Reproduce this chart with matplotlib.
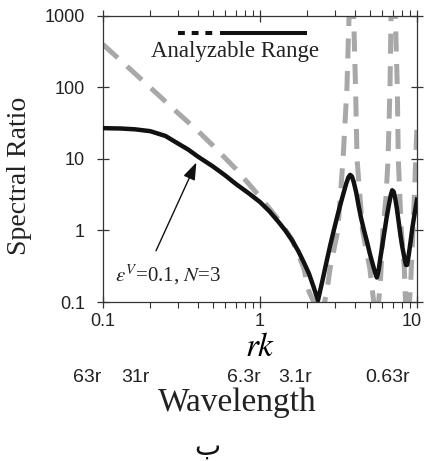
import numpy as np
import matplotlib.pyplot as plt
import matplotlib.transforms as mtransforms
from matplotlib.ticker import LogLocator, NullLocator, FixedLocator, FixedFormatter

plt.rcParams['font.family'] = ['Liberation Sans', 'DejaVu Sans']
plt.rcParams['mathtext.fontset'] = 'stix'

# smoothed spectral ratio (solid black)
rk_obs = [0.1, 0.13, 0.16, 0.2, 0.25, 0.275, 0.3, 0.35, 0.4, 0.5, 0.6, 0.7, 0.85,
          1.0, 1.15, 1.3, 1.45, 1.6, 1.75, 1.9, 2.05, 2.2, 2.34, 2.5, 2.65, 2.8,
          2.95, 3.1, 3.25, 3.4, 3.55, 3.65, 3.75, 3.85, 3.95, 4.1, 4.25, 4.4,
          4.6, 4.8, 5.0, 5.2, 5.4, 5.55, 5.7, 5.85, 6.0, 6.2, 6.4, 6.6, 6.8,
          6.95, 7.1, 7.25, 7.45, 7.65, 7.85, 8.05, 8.3, 8.5, 8.65, 8.85, 9.1,
          9.35, 9.65, 10.0]
ratio_obs = [27, 26.7, 26, 24.5, 21, 18.5, 16.5, 13.5, 10.9, 7.9, 5.9, 4.5, 3.3,
             2.5, 1.85, 1.35, 1.0, 0.73, 0.52, 0.36, 0.25, 0.16, 0.105, 0.2, 0.36, 0.62,
             1.0, 1.55, 2.3, 3.3, 4.6, 5.5, 6.0, 5.7, 4.8, 3.4, 2.2, 1.5,
             1.0, 0.7, 0.48, 0.35, 0.26, 0.22, 0.28, 0.42, 0.6, 0.95, 1.5, 2.2, 3.1,
             3.65, 3.5, 2.9, 2.0, 1.3, 0.85, 0.6, 0.42, 0.33, 0.33, 0.45, 0.7,
             1.1, 1.7, 2.7]

# theoretical spectral ratio (dashed gray), poles run off the top
rk_th = [0.1, 0.15, 0.2, 0.3, 0.4, 0.5, 0.7, 1.0, 1.3, 1.6, 1.9, 2.05, 2.2, 2.4,
         2.55, 2.65, 2.8, 3.13, 3.38, 3.58, 3.69, 3.8, 3.95, 4.06, 4.15, 4.5,
         5.0, 5.25, 5.45, 5.7, 5.85, 6.07, 6.35, 6.54, 6.73, 6.83, 6.95, 7.28,
         7.49, 7.6, 7.94, 8.3, 8.45, 8.7, 8.95, 9.1, 9.55, 10.0]
ratio_th = [400, 178, 100, 44, 25, 15.5, 7.3, 2.95, 1.45, 0.75, 0.3, 0.14, 0.1, 0.06,
            0.09, 0.13, 0.3, 1, 10, 100, 1000, 10000, 1000, 100, 10, 1,
            0.3, 0.12, 0.06, 0.1, 0.2, 1, 3, 10, 100, 1000, 10000, 1000,
            100, 10, 1, 0.3, 0.1, 0.06, 0.1, 0.17, 2, 30]

# analyzable range bar
range_dashed = [0.3, 0.5]
range_solid = [0.56, 2.0]
range_level = 580

wl_labels = ['63r', '31r', '6.3r', '3.1r', '0.63r']
wl_pos = [0.079, 0.162, 0.79, 1.67, 6.5]

fig = plt.figure(figsize=(4.24, 4.61), dpi=100)
ax = fig.add_axes([0.2429, 0.3449, 0.7406, 0.6204])

ax.plot(rk_th, ratio_th, color='#a8a8a8', lw=3.6, dashes=(4, 2.5),
        solid_capstyle='butt', zorder=2)
ax.plot(rk_obs, ratio_obs, color='#111111', lw=3.2, zorder=3,
        solid_joinstyle='round')

ax.set_xscale('log')
ax.set_yscale('log')
ax.set_xlim(0.1, 10)
ax.set_ylim(0.1, 1000)

ax.yaxis.set_major_locator(FixedLocator([0.1, 1, 10, 100, 1000]))
ax.yaxis.set_major_formatter(FixedFormatter(['0.1', '1', '10', '100', '1000']))
ax.yaxis.set_minor_locator(NullLocator())
ax.xaxis.set_major_locator(FixedLocator([0.1, 1, 10]))
ax.xaxis.set_major_formatter(FixedFormatter(['0.1', '1', '10']))
ax.xaxis.set_minor_locator(LogLocator(base=10, subs=np.arange(2, 10)))

ax.tick_params(which='major', direction='inout', length=8, width=0.9,
               labelsize=13, labelcolor='#222222', color='#333333',
               top=True, right=True, pad=4)
ax.tick_params(axis='y', which='major', pad=9)
ax.tick_params(which='minor', direction='out', length=4, width=0.8,
               color='#333333', top=True)
for s in ax.spines.values():
    s.set_linewidth(0.9)
    s.set_color('#333333')

# nudge the last x label so it stays inside the figure
fig.canvas.draw()
last = ax.get_xticklabels()[-1]
last.set_transform(last.get_transform() +
                   mtransforms.ScaledTranslation(-0.05, 0, fig.dpi_scale_trans))

# analyzable range marker
ax.plot(range_dashed, [range_level] * 2, color='#111111', lw=2.9,
        dashes=(1.7, 1.7), solid_capstyle='butt')
ax.plot(range_solid, [range_level] * 2, color='#111111', lw=2.9,
        solid_capstyle='butt')
ax.text(0.69, 267, 'Analyzable Range', ha='center', va='baseline',
        fontsize=16.5, family='Liberation Serif', color='#222222')

ax.annotate('', xy=(0.40, 9.7), xytext=(0.214, 0.48),
            arrowprops=dict(arrowstyle='-|>,head_length=0.7,head_width=0.25',
                            lw=1.0, color='#111111', mutation_scale=15))
ax.text(0.119, 0.19, r'$\varepsilon^{V}$=0.1, $N$=3', ha='left', va='baseline',
        fontsize=15, family='Liberation Serif', color='#222222')

ax.set_xlabel('$rk$', fontsize=24, labelpad=1)

for lab, pos in zip(wl_labels, wl_pos):
    ax.annotate(lab, xy=(pos, 0), xycoords=('data', 'axes fraction'),
                xytext=(0, -54), textcoords='offset points',
                ha='center', va='center', fontsize=14, color='#222222',
                annotation_clip=False)

fig.text(237 / 424, 1 - 403 / 461, 'Wavelength', ha='center', va='center',
         fontsize=24, family='Liberation Serif', color='#222222')
fig.text(20 / 424, 1 - 176 / 461, 'Spectral Ratio', ha='center', va='center',
         rotation=90, fontsize=20, family='Liberation Serif', color='#222222')
fig.text(207 / 424, 1 - 447 / 461, '\u0628', ha='center', va='center',
         fontsize=20, family='DejaVu Sans', color='#111111')

fig.savefig('out.png', dpi=100)
